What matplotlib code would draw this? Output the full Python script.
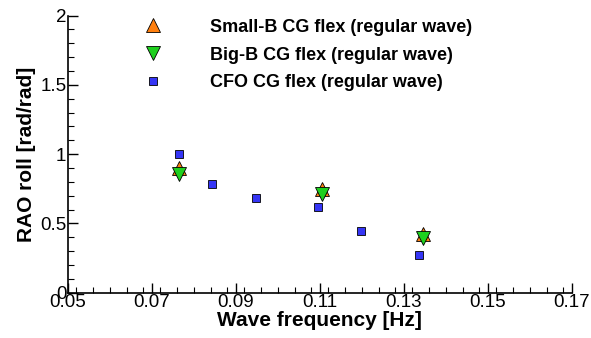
import numpy as np
import matplotlib
matplotlib.use('Agg')
import matplotlib.pyplot as plt
from matplotlib.ticker import MultipleLocator

plt.rcParams['font.family'] = ['Liberation Sans', 'DejaVu Sans']

small_f = [0.0766, 0.1106, 0.1347]
small_rao = [0.90, 0.745, 0.423]
big_f = [0.0766, 0.1106, 0.1347]
big_rao = [0.86, 0.71, 0.392]
cfo_f = [0.0766, 0.0844, 0.0948, 0.1097, 0.1198, 0.1336]
cfo_rao = [0.998, 0.786, 0.683, 0.620, 0.447, 0.270]

fig = plt.figure(figsize=(5.91, 3.38), dpi=100)
ax = fig.add_axes([0.1146, 0.134, 0.8528, 0.820])

ax.plot(small_f, small_rao, linestyle='none', marker='^', markersize=9.5,
        markerfacecolor='#ff7f0e', markeredgecolor='black', markeredgewidth=0.6,
        label='Small-B CG flex (regular wave)')
ax.plot(big_f, big_rao, linestyle='none', marker='v', markersize=9.5,
        markerfacecolor='#1ed01e', markeredgecolor='black', markeredgewidth=0.6,
        label='Big-B CG flex (regular wave)')
ax.plot(cfo_f, cfo_rao, linestyle='none', marker='s', markersize=6,
        markerfacecolor='#3535f5', markeredgecolor='black', markeredgewidth=0.6,
        label='CFO CG flex (regular wave)')

ax.set_xlim(0.05, 0.17)
ax.set_ylim(0, 2)
ax.xaxis.set_minor_locator(MultipleLocator(0.004))
ax.yaxis.set_minor_locator(MultipleLocator(0.1))
ax.set_yticks([0, 0.5, 1, 1.5, 2])
ax.set_yticklabels(['0', '0.5', '1', '1.5', '2'])
ax.set_xticks([0.05, 0.07, 0.09, 0.11, 0.13, 0.15, 0.17])
ax.set_xticklabels(['0.05', '0.07', '0.09', '0.11', '0.13', '0.15', '0.17'])

ax.spines['top'].set_visible(False)
ax.spines['right'].set_visible(False)
ax.spines['left'].set_linewidth(1.2)
ax.spines['bottom'].set_linewidth(1.2)
ax.tick_params(which='major', direction='in', length=7, width=1, labelsize=13.5, pad=1)
ax.tick_params(which='minor', direction='in', length=4, width=0.8)

ax.set_xlabel('Wave frequency [Hz]', fontsize=15, fontweight='bold', labelpad=0)
ax.set_ylabel('RAO roll [rad/rad]', fontsize=15, fontweight='bold', labelpad=3)

leg = ax.legend(loc='center left', bbox_to_anchor=(144 / 591, 1 - 55 / 338),
                bbox_transform=fig.transFigure, frameon=False,
                prop={'size': 13, 'weight': 'bold'}, handlelength=1,
                handletextpad=2.67, labelspacing=0.6, borderpad=0, borderaxespad=0)

fig.savefig('out.png', dpi=100)
